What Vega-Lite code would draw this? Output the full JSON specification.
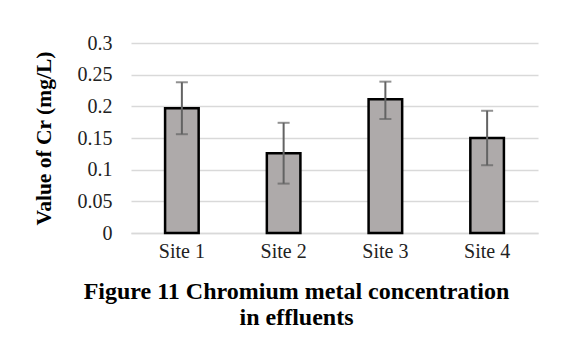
{
  "$schema": "https://vega.github.io/schema/vega-lite/v6.json",
  "width": 407,
  "height": 190,
  "autosize": {"type": "none"},
  "padding": {"left": 131, "top": 43, "right": 27, "bottom": 129},
  "background": "white",
  "title": {
    "text": ["Figure 11 Chromium  metal concentration", "in effluents"],
    "orient": "bottom",
    "anchor": "middle",
    "dx": -38,
    "offset": 19,
    "font": "Liberation Serif",
    "fontSize": 24,
    "fontWeight": "bold",
    "color": "#000000",
    "lineHeight": 26
  },
  "data": {
    "values": [
      {"site": "Site 1", "value": 0.197, "lo": 0.156, "hi": 0.238},
      {"site": "Site 2", "value": 0.126, "lo": 0.078, "hi": 0.174},
      {"site": "Site 3", "value": 0.211, "lo": 0.180, "hi": 0.239},
      {"site": "Site 4", "value": 0.150, "lo": 0.107, "hi": 0.193}
    ]
  },
  "encoding": {
    "x": {
      "field": "site",
      "type": "nominal",
      "sort": null,
      "scale": {"paddingInner": 0.67, "paddingOuter": 0.335},
      "axis": {
        "title": null,
        "labelAngle": 0,
        "labelFont": "Liberation Serif",
        "labelFontSize": 20,
        "labelColor": "#222222",
        "labelPadding": 8,
        "ticks": false,
        "domainColor": "#d9d9d9",
        "domainWidth": 1.5,
        "grid": false
      }
    }
  },
  "layer": [
    {
      "mark": {"type": "bar", "fill": "#aeaaaa", "stroke": "#000000", "strokeWidth": 2.5},
      "encoding": {
        "y": {
          "field": "value",
          "type": "quantitative",
          "scale": {"domain": [0, 0.3], "nice": false},
          "axis": {
            "title": "Value of Cr (mg/L)",
            "titleFont": "Liberation Serif",
            "titleFontSize": 21.5,
            "titleFontWeight": "bold",
            "titleColor": "#000000",
            "titlePadding": 22,
            "values": [0, 0.05, 0.1, 0.15, 0.2, 0.25, 0.3],
            "format": "~g",
            "labelOverlap": false,
            "labelFont": "Liberation Serif",
            "labelFontSize": 20,
            "labelColor": "#222222",
            "labelPadding": 19,
            "ticks": false,
            "domain": false,
            "grid": true,
            "gridColor": "#d9d9d9",
            "gridWidth": 1.5
          }
        }
      }
    },
    {
      "mark": {"type": "rule", "color": "#636363", "strokeWidth": 2},
      "encoding": {
        "y": {
          "field": "lo",
          "type": "quantitative",
          "axis": {
            "title": "Value of Cr (mg/L)",
            "titleFont": "Liberation Serif",
            "titleFontSize": 21.5,
            "titleFontWeight": "bold",
            "titleColor": "#000000",
            "titlePadding": 22,
            "values": [0, 0.05, 0.1, 0.15, 0.2, 0.25, 0.3],
            "format": "~g",
            "labelOverlap": false,
            "labelFont": "Liberation Serif",
            "labelFontSize": 20,
            "labelColor": "#222222",
            "labelPadding": 19,
            "ticks": false,
            "domain": false,
            "grid": true,
            "gridColor": "#d9d9d9",
            "gridWidth": 1.5
          }
        },
        "y2": {"field": "hi"}
      }
    },
    {
      "mark": {"type": "tick", "color": "#636363", "thickness": 2, "size": 12},
      "encoding": {
        "y": {
          "field": "lo",
          "type": "quantitative",
          "axis": {
            "title": "Value of Cr (mg/L)",
            "titleFont": "Liberation Serif",
            "titleFontSize": 21.5,
            "titleFontWeight": "bold",
            "titleColor": "#000000",
            "titlePadding": 22,
            "values": [0, 0.05, 0.1, 0.15, 0.2, 0.25, 0.3],
            "format": "~g",
            "labelOverlap": false,
            "labelFont": "Liberation Serif",
            "labelFontSize": 20,
            "labelColor": "#222222",
            "labelPadding": 19,
            "ticks": false,
            "domain": false,
            "grid": true,
            "gridColor": "#d9d9d9",
            "gridWidth": 1.5
          }
        }
      }
    },
    {
      "mark": {"type": "tick", "color": "#636363", "thickness": 2, "size": 12},
      "encoding": {
        "y": {
          "field": "hi",
          "type": "quantitative",
          "axis": {
            "title": "Value of Cr (mg/L)",
            "titleFont": "Liberation Serif",
            "titleFontSize": 21.5,
            "titleFontWeight": "bold",
            "titleColor": "#000000",
            "titlePadding": 22,
            "values": [0, 0.05, 0.1, 0.15, 0.2, 0.25, 0.3],
            "format": "~g",
            "labelOverlap": false,
            "labelFont": "Liberation Serif",
            "labelFontSize": 20,
            "labelColor": "#222222",
            "labelPadding": 19,
            "ticks": false,
            "domain": false,
            "grid": true,
            "gridColor": "#d9d9d9",
            "gridWidth": 1.5
          }
        }
      }
    }
  ],
  "config": {"view": {"stroke": null}}
}
